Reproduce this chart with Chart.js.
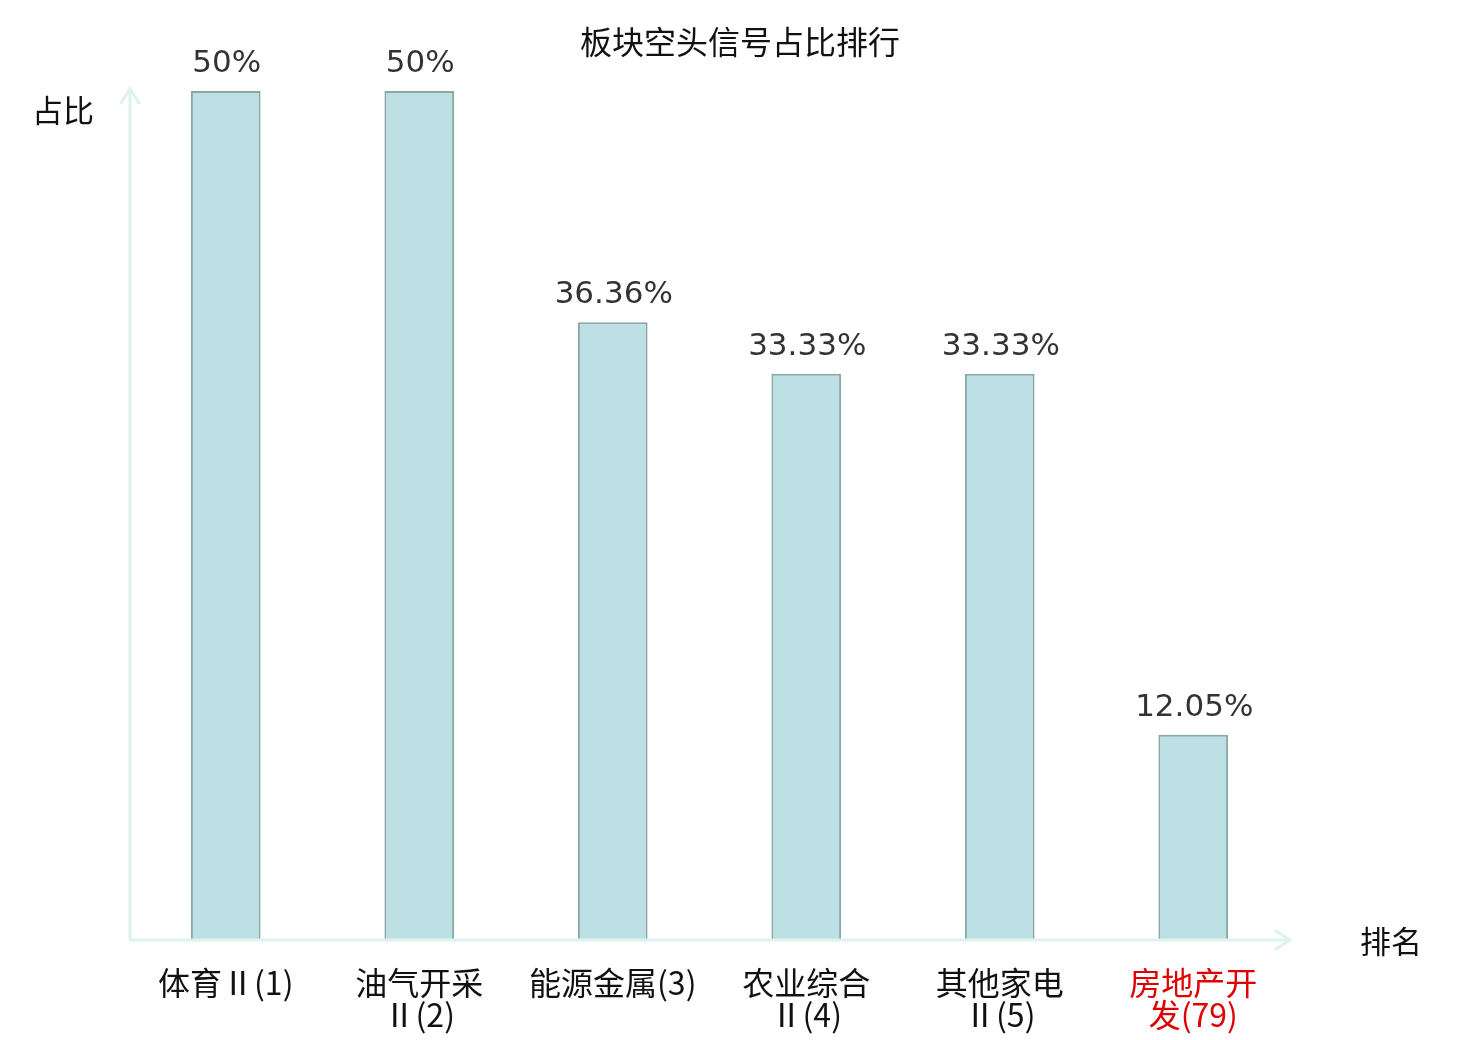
<!DOCTYPE html>
<html>
<head>
<meta charset="utf-8">
<script src="https://cdn.jsdelivr.net/npm/chart.js@4"></script>
<style>
    html, body { margin: 0; padding: 0; background: #fff; }
</style>
</head>
<body>
<canvas id="chart" width="1480" height="1040"></canvas>
<script>
const categories = [
    ['体育Ⅱ(1)'],
    ['油气开采', 'Ⅱ(2)'],
    ['能源金属(3)'],
    ['农业综合', 'Ⅱ(4)'],
    ['其他家电', 'Ⅱ(5)'],
    ['房地产开', '发(79)']
];
const shares = [50, 50, 36.36, 33.33, 33.33, 12.05];
const shareLabels = ['50%', '50%', '36.36%', '33.33%', '33.33%', '12.05%'];
const highlightIndex = 5;

const CJK = '"Noto Sans CJK SC", "Noto Sans", sans-serif';
const AXIS_COLOR = '#def2ef';

// axis arrows, value labels, title and axis names
const decorations = {
    id: 'decorations',
    afterDatasetsDraw(chart) {
        const { ctx, chartArea } = chart;
        const x0 = chartArea.left + 1, y0 = chartArea.bottom + 1;
        ctx.save();
        ctx.strokeStyle = AXIS_COLOR;
        ctx.lineWidth = 3;
        ctx.lineCap = 'round';
        ctx.beginPath();
        ctx.moveTo(x0, y0);
        ctx.lineTo(x0, chartArea.top - 2);
        ctx.moveTo(x0 - 9, chartArea.top + 12);
        ctx.lineTo(x0, chartArea.top - 2);
        ctx.lineTo(x0 + 9, chartArea.top + 12);
        ctx.moveTo(x0, y0);
        ctx.lineTo(chartArea.right, y0);
        ctx.moveTo(chartArea.right - 14, y0 - 9);
        ctx.lineTo(chartArea.right, y0);
        ctx.lineTo(chartArea.right - 14, y0 + 9);
        ctx.stroke();

        ctx.fillStyle = '#333';
        ctx.font = '31px "DejaVu Sans", sans-serif';
        ctx.textAlign = 'center';
        ctx.textBaseline = 'alphabetic';
        chart.getDatasetMeta(0).data.forEach((bar, i) => {
            ctx.fillText(shareLabels[i], bar.x + 1, bar.y - 19);
        });

        ctx.fillStyle = '#111';
        ctx.font = '32px ' + CJK;
        ctx.textBaseline = 'middle';
        ctx.fillText('板块空头信号占比排行', 740, 42);
        ctx.font = '31px ' + CJK;
        ctx.fillText('占比', 63, 110);
        ctx.fillText('排名', 1391, 941);
        ctx.restore();
    }
};

new Chart(document.getElementById('chart'), {
    type: 'bar',
    data: {
        labels: categories,
        datasets: [{
            data: shares,
            backgroundColor: '#bce0e3',
            borderColor: '#8aa6a6',
            borderWidth: 2,
            barPercentage: 0.36,
            categoryPercentage: 1
        }]
    },
    options: {
        responsive: false,
        animation: false,
        devicePixelRatio: 1,
        layout: { padding: { left: 129, right: 190, top: 91, bottom: 0 } },
        plugins: {
            legend: { display: false },
            tooltip: { enabled: false }
        },
        scales: {
            x: {
                grid: { display: false, drawTicks: false },
                border: { display: false },
                ticks: {
                    padding: 28,
                    maxRotation: 0,
                    autoSkip: false,
                    color: (c) => c.index === highlightIndex ? '#e00000' : '#111',
                    font: { family: CJK, size: 32, lineHeight: 1.0 }
                },
                afterFit: (scale) => { scale.height = 101; }
            },
            y: {
                display: false,
                min: 0,
                max: 50
            }
        }
    },
    plugins: [decorations]
});
</script>
</body>
</html>
